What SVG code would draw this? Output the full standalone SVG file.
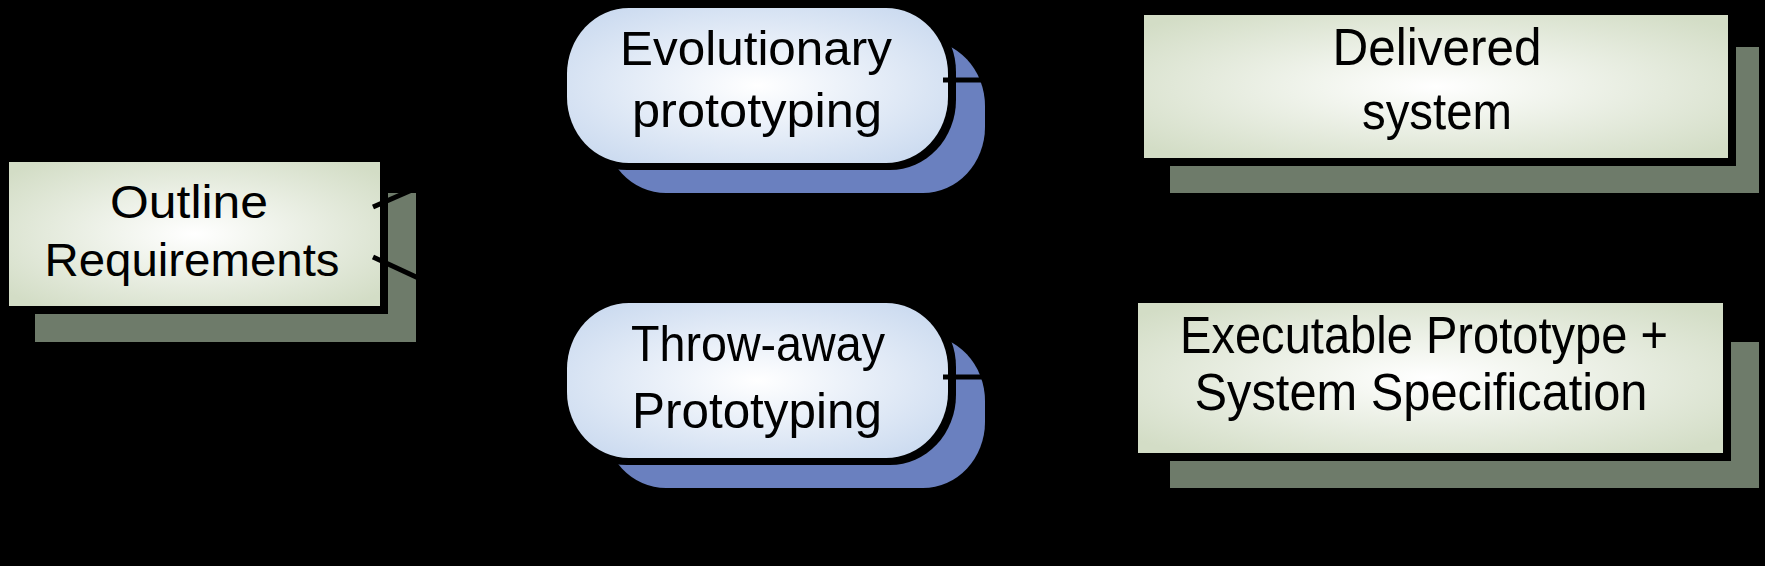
<svg xmlns="http://www.w3.org/2000/svg" width="1765" height="566" viewBox="0 0 1765 566">
<defs>
<radialGradient id="gBox" cx="0.5" cy="0.5" r="0.65">
<stop offset="0" stop-color="#ffffff"/>
<stop offset="1" stop-color="#d3ddc6"/>
</radialGradient>
<radialGradient id="gEll" cx="0.5" cy="0.5" r="0.65">
<stop offset="0" stop-color="#ffffff"/>
<stop offset="1" stop-color="#c9d9ef"/>
</radialGradient>
</defs>
<style>
.bshadow{fill:#6e7b6a}
.eshadow{fill:#6a80bf}
.edge{fill:#000}
.box{fill:url(#gBox)}
.ell{fill:url(#gEll)}
.t{font-family:"Liberation Sans",Arial,sans-serif;fill:#000;text-anchor:middle}
.conn{stroke:#000;stroke-width:5;fill:none}
</style>
<rect x="0" y="0" width="1765" height="566" fill="#000"/>
<g id="outline-requirements">
<rect class="bshadow" x="35" y="193" width="381" height="149"/>
<rect class="edge" x="3" y="156" width="385" height="158"/>
<rect class="box" x="9" y="162" width="371" height="144"/>
<text class="t" font-size="46" x="189" y="218" textLength="158" lengthAdjust="spacingAndGlyphs">Outline</text>
<text class="t" font-size="46" x="192" y="276" textLength="295" lengthAdjust="spacingAndGlyphs">Requirements</text>
</g>
<g id="evolutionary-prototyping">
<rect class="eshadow" x="604" y="40" width="381" height="153" rx="62" ry="66"/>
<rect class="edge" x="561" y="2" width="395" height="168" rx="66" ry="70"/>
<rect class="ell" x="567" y="8" width="381" height="155" rx="62" ry="66"/>
<text class="t" font-size="48" x="756" y="65" textLength="272" lengthAdjust="spacingAndGlyphs">Evolutionary</text>
<text class="t" font-size="48" x="757" y="127" textLength="250" lengthAdjust="spacingAndGlyphs">prototyping</text>
</g>
<g id="throwaway-prototyping">
<rect class="eshadow" x="604" y="335" width="381" height="153" rx="62" ry="66"/>
<rect class="edge" x="561" y="297" width="395" height="168" rx="66" ry="70"/>
<rect class="ell" x="567" y="303" width="381" height="155" rx="62" ry="66"/>
<text class="t" font-size="50" x="758" y="361" textLength="254" lengthAdjust="spacingAndGlyphs">Throw-away</text>
<text class="t" font-size="50" x="757" y="428" textLength="250" lengthAdjust="spacingAndGlyphs">Prototyping</text>
</g>
<g id="delivered-system">
<rect class="bshadow" x="1170" y="47" width="589" height="146"/>
<rect class="edge" x="1138" y="9" width="598" height="157"/>
<rect class="box" x="1144" y="15" width="584" height="143"/>
<text class="t" font-size="52" x="1437" y="65" textLength="209" lengthAdjust="spacingAndGlyphs">Delivered</text>
<text class="t" font-size="52" x="1437" y="129" textLength="150" lengthAdjust="spacingAndGlyphs">system</text>
</g>
<g id="executable-prototype">
<rect class="bshadow" x="1170" y="342" width="589" height="146"/>
<rect class="edge" x="1132" y="297" width="599" height="164"/>
<rect class="box" x="1138" y="303" width="585" height="150"/>
<text class="t" font-size="51" x="1424" y="353" textLength="488" lengthAdjust="spacingAndGlyphs">Executable Prototype +</text>
<text class="t" font-size="51" x="1421" y="410" textLength="453" lengthAdjust="spacingAndGlyphs">System Specification</text>
</g>
<g id="connectors">
<line class="conn" x1="373" y1="207" x2="567" y2="122"/>
<line class="conn" x1="373" y1="257" x2="567" y2="347"/>
<line class="conn" x1="943" y1="80" x2="1144" y2="80"/>
<line class="conn" x1="943" y1="377" x2="1138" y2="377"/>
</g>
</svg>
